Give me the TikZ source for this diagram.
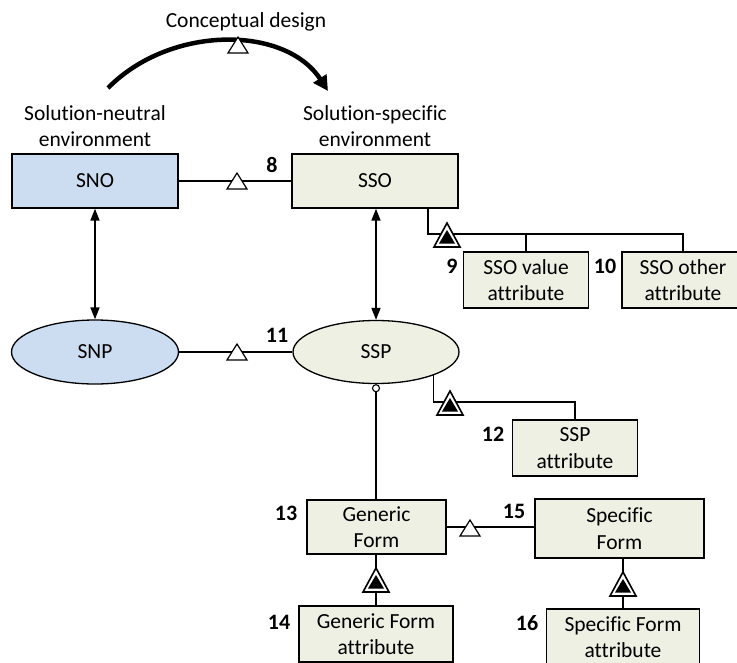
\documentclass[tikz,border=0pt]{standalone}
\usepackage{fontspec}
\setmainfont[Ligatures={NoCommon}]{Carlito}
\usetikzlibrary{arrows.meta,shapes.geometric}
\definecolor{sblue}{HTML}{CCDDF1}
\definecolor{sbeige}{HTML}{EEF0E3}
\tikzset{
  txt/.style={font=\fontsize{21.5}{26}\selectfont, inner sep=0pt, align=center},
  num/.style={font=\fontsize{22}{26}\selectfont\bfseries, inner sep=0pt},
  boxbase/.style={draw, line width=1.3pt, inner sep=0pt, align=center, font=\fontsize{21.5}{26.5}\selectfont},
  bluebox/.style={boxbase, fill=sblue},
  beigebox/.style={boxbase, fill=sbeige},
  blueell/.style={boxbase, ellipse, fill=sblue, minimum width=167pt, minimum height=64pt},
  beigeell/.style={boxbase, ellipse, fill=sbeige, minimum width=166pt, minimum height=63pt},
  conn/.style={line width=1.4pt},
  dbl/.style={line width=1.5pt, {Triangle[length=12pt,width=9pt]}-{Triangle[length=12pt,width=9pt]}},
  smallcirc/.style={circle, draw, line width=1.1pt, fill=white, inner sep=0pt, minimum size=7pt},
  hollowtri/.pic={\draw[line width=1.2pt, fill=white] (-10,8) -- (10,8) -- (0,-8) -- cycle;},
  exhtri/.pic={\draw[line width=1.6pt, fill=white] (-13,12) -- (13,12) -- (0,-12) -- cycle;
               \fill[black] (-8,8.5) -- (8,8.5) -- (0,-5) -- cycle;}
}
\begin{document}
\begin{tikzpicture}[x=1pt,y=-1pt]
\useasboundingbox (0,0) rectangle (737,662);
\clip (0,0) rectangle (737,662);

% titles
\node[txt] (cd) at (246,22) {Conceptual design};
\node[txt] (snenv) at (95,126) {Solution-neutral\\environment};
\node[txt] (ssenv) at (375,126) {Solution-specific\\environment};
\coordinate (arcs) at (108,88);
\coordinate (arce) at (328,91);
\draw[line width=4.5pt, -{Triangle[length=15pt,width=15pt]}] (arcs) .. controls (170,25) and (285,25) .. (arce);
\pic at (238,45) {hollowtri};

% nodes
\node[bluebox, minimum width=166pt, minimum height=54pt] (SNO) at (95,181) {SNO};
\node[beigebox, minimum width=166pt, minimum height=54pt] (SSO) at (375,181) {SSO};
\node[blueell] (SNP) at (95,352) {SNP};
\node[beigeell] (SSP) at (376,352) {SSP};
\node[beigebox, minimum width=125pt, minimum height=56pt] (SSOval) at (526,280) {SSO value\\attribute};
\node[beigebox, minimum width=122pt, minimum height=56pt] (SSOoth) at (683,280) {SSO other\\attribute};
\node[beigebox, minimum width=125pt, minimum height=56pt] (SSPattr) at (575,448) {SSP\\attribute};
\node[beigebox, minimum width=139pt, minimum height=54pt] (GF) at (376.5,527) {Generic\\Form};
\node[beigebox, minimum width=169pt, minimum height=59pt] (SF) at (619.5,528.5) {Specific\\Form};
\node[beigebox, minimum width=154pt, minimum height=56pt] (GFA) at (376,634) {Generic Form\\attribute};
\node[beigebox, minimum width=153pt, minimum height=56pt] (SFA) at (623,637) {Specific Form\\attribute};

% numbers
\node[num] (n8) at (272,165) {8};
\node[num] (n9) at (452,266) {9};
\node[num] (n10) at (605,266) {10};
\node[num] (n11) at (277,335) {11};
\node[num] (n12) at (493,434) {12};
\node[num] (n13) at (286,513) {13};
\node[num] (n14) at (279,622) {14};
\node[num] (n15) at (514,511) {15};
\node[num] (n16) at (527,623) {16};

% SNO - SSO
\draw[conn] (SNO.east) -- (SSO.west);
\pic at (237,181) {hollowtri};
% SNP - SSP
\draw[conn] (SNP.east) -- (SSP.west);
\pic at (237,352) {hollowtri};
% double arrows
\draw[dbl] (SNO.south) -- (SNP.north);
\draw[dbl] (SSO.south -| SSP.north) -- (SSP.north);

% SSO attributes
\coordinate (j1) at (428,234);
\draw[conn] (SSO.south -| j1) -- (j1) -- (j1 -| SSOoth.north) -- (SSOoth.north);
\draw[conn] (j1 -| SSOval.north) -- (SSOval.north);
\pic at (447,235) {exhtri};

% SSP attribute
\coordinate (j2) at (432,402);
\draw[conn] (SSP.-22.5) -- (SSP.-22.5 |- j2) -- (j2 -| SSPattr.north) -- (SSPattr.north);
\pic at (450,403) {exhtri};

% SSP - Generic Form
\node[smallcirc, anchor=north] (oc) at (SSP.south) {};
\draw[conn] (oc.south) -- (oc.south |- GF.north);

% Generic Form - Specific Form
\draw[conn] (GF.east) -- (GF.east -| SF.west);
\pic at (470,528) {hollowtri};

% Generic Form attribute
\draw[conn] (GFA.north) -- (GFA.north |- GF.south);
\pic at (376,580) {exhtri};

% Specific Form attribute
\draw[conn] (SFA.north) -- (SFA.north |- SF.south);
\pic at (623,584) {exhtri};
\end{tikzpicture}
\end{document}
